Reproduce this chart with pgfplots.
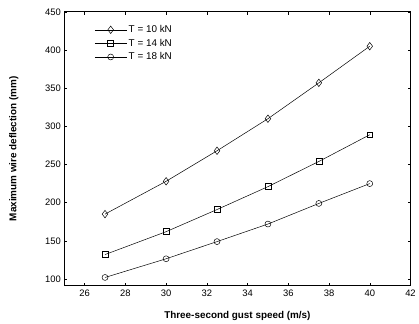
\documentclass[border=0pt]{standalone}
\usepackage{pgfplots}
\pgfplotsset{compat=1.18}
\usepackage{fontspec}
\setmainfont{Liberation Sans}
\begin{document}
\begin{tikzpicture}
\begin{axis}[
  name=ax,
  scale only axis,
  width=350pt, height=277pt,
  xmin=25, xmax=42, ymin=91, ymax=450,
  xtick={26,28,...,42}, ytick={100,150,...,450},
  tick align=inside, tick pos=both,
  major tick length=3pt,
  axis line style={line width=0.8pt},
  tick style={line width=0.5pt, black},
  /pgf/number format/assume math mode=true,
  tick label style={font=\fontsize{9.5}{10.5}\selectfont},
  xticklabel style={yshift=-1pt},
  xlabel={\textbf{Three-second gust speed (m/s)}},
  ylabel={\textbf{Maximum wire deflection (mm)}},
  label style={font=\fontsize{11.8}{13}\selectfont},
  every axis x label/.style={at={(axis description cs:0.5,0)}, anchor=center, yshift=-30pt},
  every axis y label/.style={at={(axis description cs:0,0.5)}, anchor=center, rotate=90, yshift=51pt},
  legend style={draw=none, fill=none, at={(0.087,0.885)}, anchor=west,
    font=\fontsize{10}{11}\selectfont, row sep=1pt, inner sep=0pt},
  legend cell align=left,
  legend image code/.code={\draw[mark repeat=2,mark phase=2] plot coordinates {(0pt,0pt) (16pt,0pt) (32pt,0pt)};},
  every axis plot/.append style={black, line width=0.5pt, mark size=3pt, mark options={solid, fill=white}},
]
\addplot[mark=diamond, mark size=3.8pt] coordinates {(27,185) (30,228) (32.5,268) (35,310) (37.5,357) (40,405)};
\addlegendentry{T = 10 kN}
\addplot[mark=square] coordinates {(27,132) (30,162) (32.5,191) (35,221) (37.5,254) (40,289)};
\addlegendentry{T = 14 kN}
\addplot[mark=o] coordinates {(27,102) (30,126.5) (32.5,149) (35,172) (37.5,199) (40,225)};
\addlegendentry{T = 18 kN}
\end{axis}
\path (ax.south west) ++(-65pt,-36pt) coordinate (bl);
\path (ax.north east) ++(4pt,12pt) coordinate (tr);
\useasboundingbox (bl) rectangle (tr);
\end{tikzpicture}
\end{document}
